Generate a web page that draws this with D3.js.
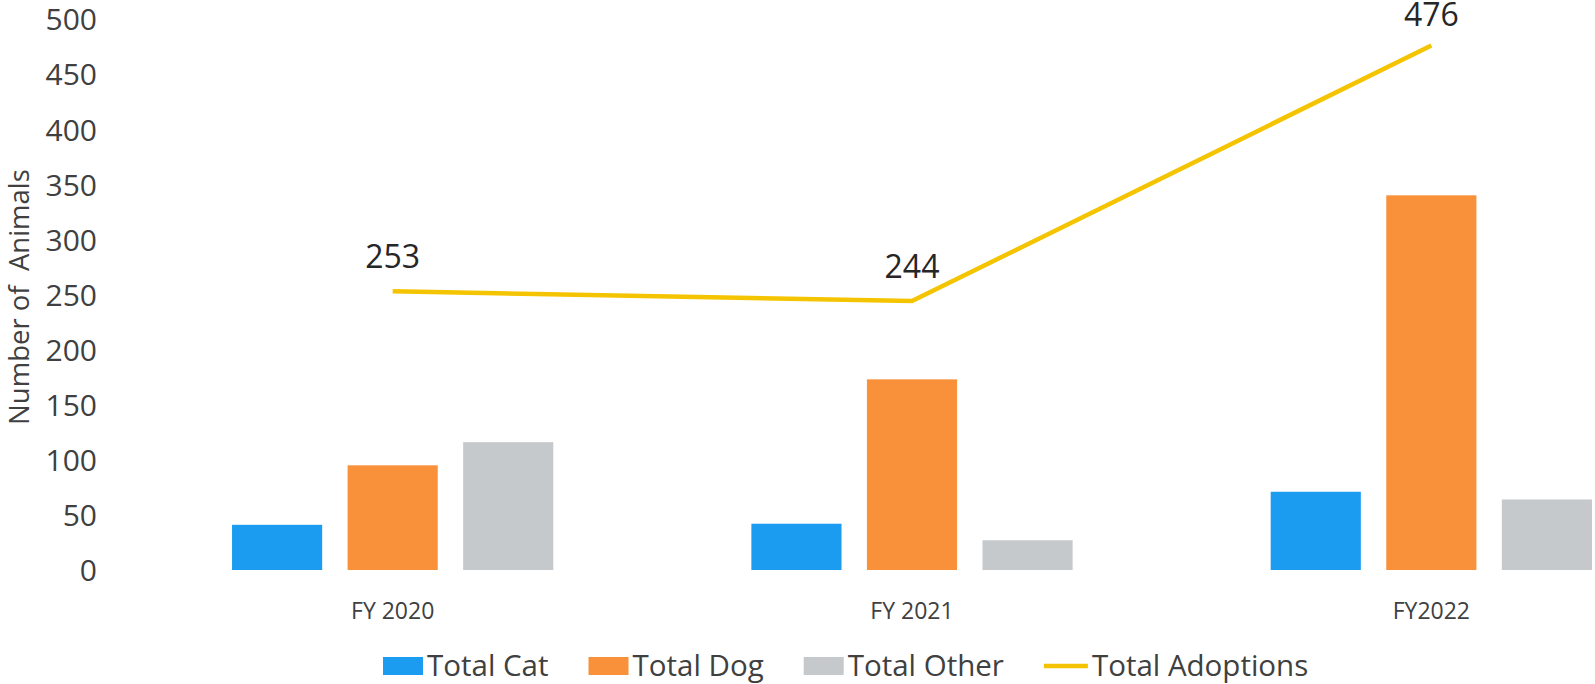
<!DOCTYPE html>
<html>
<head>
<meta charset="utf-8">
<script src="https://cdn.jsdelivr.net/npm/d3@7/dist/d3.min.js"></script>
<style>
  html, body { margin: 0; padding: 0; background: #ffffff; }
  svg { display: block; font-family: "Open Sans", "DejaVu Sans", sans-serif; }
</style>
</head>
<body>
<svg id="chart" width="1595" height="684"></svg>
<script>
// ---- data ----
const categories = ["FY 2020", "FY 2021", "FY2022"];
const seriesNames = ["Total Cat", "Total Dog", "Total Other"];
const totalCat = [41, 42, 71];
const totalDog = [95, 173, 340];
const totalOther = [116, 27, 64];
const totalAdoptions = [253, 244, 476];
const lineName = "Total Adoptions";
const yTicks = [0, 50, 100, 150, 200, 250, 300, 350, 400, 450, 500];
const yTitle = "Number of  Animals";

const barValues = [totalCat, totalDog, totalOther];
const colors = { "Total Cat": "#1c9cf0", "Total Dog": "#f8913a", "Total Other": "#c6c9cc" };
const lineColor = "#f5c400";

const svg = d3.select("#chart");

const y = d3.scaleLinear().domain([0, 500]).range([570, 19]);
const x0 = d3.scaleBand().domain(categories).range([133, 1691]).paddingInner(0).paddingOuter(0);
const x1 = d3.scaleBand().domain(seriesNames).range([0, x0.bandwidth()]).paddingInner(0.22).paddingOuter(0.857);

// y axis labels (no line, no ticks)
const yAxis = d3.axisLeft(y).tickValues(yTicks).tickSize(0).tickPadding(0);
const yg = svg.append("g").attr("transform", "translate(97,0)").call(yAxis);
yg.select(".domain").remove();
yg.selectAll("text")
  .attr("font-family", "Open Sans, sans-serif")
  .attr("font-size", 30)
  .attr("fill", "#404040")
  .attr("dy", "0.36em");

// y title
svg.append("text")
  .attr("transform", "translate(29,297) rotate(-90)")
  .attr("text-anchor", "middle")
  .attr("font-size", 27.5)
  .attr("fill", "#404040")
  .attr("xml:space", "preserve")
  .style("white-space", "pre")
  .text(yTitle);

// bars
const groups = svg.append("g").selectAll("g")
  .data(categories)
  .join("g")
  .attr("transform", d => `translate(${x0(d)},0)`);

groups.selectAll("rect")
  .data((d, i) => seriesNames.map((s, j) => ({ s, v: barValues[j][i] })))
  .join("rect")
  .attr("x", d => x1(d.s))
  .attr("width", x1.bandwidth())
  .attr("y", d => y(d.v))
  .attr("height", d => y(0) - y(d.v))
  .attr("fill", d => colors[d.s]);

// x axis labels
const xAxis = d3.axisBottom(x0).tickSize(0).tickPadding(0);
const xg = svg.append("g").attr("transform", "translate(0,619)").call(xAxis);
xg.select(".domain").remove();
xg.selectAll("text")
  .attr("font-family", "Open Sans, sans-serif")
  .attr("font-size", 23)
  .attr("fill", "#404040")
  .attr("dy", 0)
  .attr("y", 0);

// line
const cx = d => x0(d) + x0.bandwidth() / 2;
const line = d3.line().x((d, i) => cx(categories[i])).y(d => y(d));
svg.append("path")
  .datum(totalAdoptions)
  .attr("d", line)
  .attr("fill", "none")
  .attr("stroke", lineColor)
  .attr("stroke-width", 4.5)
  .attr("stroke-linejoin", "miter");

// data labels
svg.append("g").selectAll("text")
  .data(totalAdoptions)
  .join("text")
  .attr("x", (d, i) => cx(categories[i]))
  .attr("y", d => Math.max(y(d) - 23, 26))
  .attr("text-anchor", "middle")
  .attr("font-size", 32)
  .attr("fill", "#262626")
  .text(d => d);

// legend
const legendItems = seriesNames.map(s => ({ name: s, type: "rect", color: colors[s] }))
  .concat([{ name: lineName, type: "line", color: lineColor }]);
const lg = svg.append("g");
let lx = 383;
const ly = 666;
legendItems.forEach(it => {
  if (it.type === "rect") {
    lg.append("rect").attr("x", lx).attr("y", ly - 9).attr("width", 40).attr("height", 18).attr("fill", it.color);
  } else {
    lg.append("line").attr("x1", lx).attr("x2", lx + 44).attr("y1", ly).attr("y2", ly)
      .attr("stroke", it.color).attr("stroke-width", 4.5);
  }
  const sw = it.type === "rect" ? 40 : 44;
  const t = lg.append("text")
    .attr("x", lx + sw + 4)
    .attr("y", ly)
    .attr("dy", "0.35em")
    .attr("font-size", 29.5)
    .attr("fill", "#404040")
    .text(it.name);
  lx = lx + sw + 4 + t.node().getComputedTextLength() + 40;
});
</script>
</body>
</html>
